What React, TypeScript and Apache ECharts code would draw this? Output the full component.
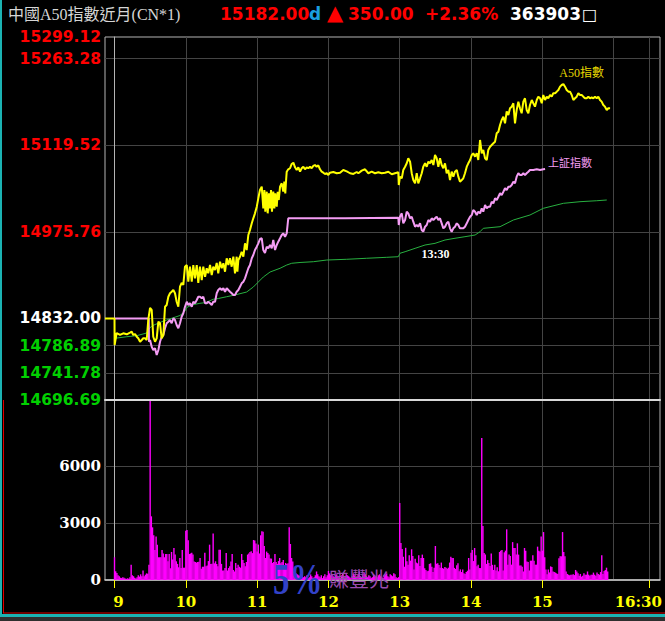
import React, { useEffect, useRef } from 'react';
import * as echarts from 'echarts';

// ---------- header ----------
const TITLE = '中國A50指數近月(CN*1)';
const LAST_PRICE = '15182.00';
const LAST_FLAG = 'd';
const CHANGE = '350.00';
const CHANGE_PCT = '+2.36%';
const TOTAL_VOLUME = '363903';

// ---------- axes ----------
const PREV_CLOSE = 14832.0;
const PRICE_MIN = 14696.69;
const PRICE_MAX = 15299.12;
const PRICE_LABELS = [14696.69, 14741.78, 14786.89, 14832.0, 14975.76, 15119.52, 15263.28, 15299.12];
const PRICE_GRID = [14741.78, 14786.89, 14832.0, 14975.76, 15119.52, 15263.28];
const VOL_MAX = 9500;
const VOL_LABELS = [0, 3000, 6000];
const VOL_GRID = [3000, 6000];
// time in minutes after 09:00
const T_MIN = -8;
const T_MAX = 459;
const HOUR_GRID = [0, 60, 120, 180, 240, 300, 360, 420, 450];
const TIME_LABELS = [0, 60, 120, 180, 240, 300, 360, 450];
const TIME_TEXT = ['9', '10', '11', '12', '13', '14', '15', '16:30'];

// ---------- series: [minute after 09:00, price] ----------
const A50 = [
  [-8,14832],[0,14832],[0.1,14788.0],[1.8,14807.9],[4.6,14804.6],[7.4,14807.4],[10.3,14805.7],[13.0,14808.4],[14.5,14810.0],[15.8,14804.6],[17.3,14806.2],[18.7,14801.7],[20.0,14799.1],[21.5,14793.4],[22.9,14796.3],[24.2,14799.1],[25.7,14799.1],[27.1,14796.3],[28.4,14829.5],[29.9,14849.4],[31.3,14846.1],[32.6,14801.7],[34.1,14793.4],[35.5,14799.1],[36.9,14826.6],[38.3,14824.0],[39.7,14799.1],[41.1,14804.6],[42.5,14851.5],[43.9,14854.4],[45.3,14868.1],[46.7,14873.8],[48.1,14876.4],[49.5,14879.2],[50.9,14873.8],[52.3,14859.8],[53.7,14851.5],[55.1,14884.7],[56.5,14890.9],[57.9,14887.6],[59.3,14917.9],[60.8,14920.7],[62.1,14893.0],[63.5,14917.9],[65.0,14893.0],[66.3,14920.7],[67.7,14898.6],[69.2,14920.7],[70.5,14890.9],[71.9,14917.9],[73.4,14895.8],[74.7,14917.9],[76.2,14901.3],[77.6,14915.3],[78.9,14907.0],[80.4,14920.7],[81.8,14904.1],[83.1,14917.9],[84.6,14912.4],[86.0,14924.1],[87.3,14907.0],[88.8,14926.2],[90.2,14915.3],[91.6,14923.6],[93.0,14909.6],[94.4,14931.9],[95.8,14920.7],[97.2,14931.9],[98.6,14917.9],[100.0,14934.5],[101.4,14907.0],[102.8,14934.5],[103.4,14909.6],[104.2,14929.0],[105.6,14934.5],[107.0,14942.8],[108.4,14934.5],[109.8,14956.7],[111.2,14945.6],[112.6,14970.5],[114.0,14978.8],[115.5,14989.9],[116.8,14998.2],[118.2,15006.5],[119.7,15017.5],[121.0,15031.4],[122.4,15045.2],[123.9,15050.7],
  [125.2,15014.8],[126.1,15045.2],[126.9,15009.2],[128.1,15042.4],[128.9,15006.5],[130.0,15039.7],[130.9,15014.8],[131.7,15045.2],[132.5,15009.2],[133.6,15042.4],[134.5,15014.8],[135.3,15039.7],[136.5,15017.5],[137.3,15042.4],[138.2,15028.6],[139.3,15050.7],[140.7,15056.3],[142.0,15042.4],[142.9,15059.0],[143.7,15039.7],[144.3,15059.0],[144.9,15075.6],[146.2,15079.6],[147.7,15081.3],[149.1,15088.4],[150.5,15090.5],[151.9,15082.9],[153.3,15078.4],[154.7,15082.9],[156.1,15075.6],[157.5,15081.3],[158.9,15083.9],[160.3,15079.6],[161.7,15082.9],[163.1,15081.3],[164.5,15083.9],[165.9,15081.3],[167.3,15085.1],[168.7,15086.7],[170.1,15083.9],[171.5,15086.2],[172.9,15079.6],[174.3,15075.6],[175.7,15073.9],[177.1,15071.8],[178.6,15073.0],[179.9,15070.1],[181.3,15073.9],[184.1,15075.1],[187.0,15073.0],[189.8,15073.9],[192.5,15078.4],[195.4,15076.2],[198.2,15073.0],[201.0,15071.8],[203.8,15075.1],
  [205.2,15073.0],[208.0,15077.3],[210.8,15079.6],[213.6,15073.0],[216.4,15075.6],[219.2,15073.0],[222.0,15074.7],[224.8,15073.0],[227.6,15073.9],[230.4,15075.6],[233.3,15071.3],[236.0,15073.0],[238.8,15074.7],[239.2,15053.5],[240.2,15067.3],[241.7,15064.6],[243.0,15078.4],[244.5,15083.9],[245.9,15089.5],[247.2,15097.8],[248.7,15092.2],[250.1,15073.0],[251.4,15061.8],[252.9,15056.3],[254.3,15073.0],[255.6,15056.3],[257.1,15064.6],[258.5,15073.0],[259.8,15083.9],[261.3,15089.5],[262.7,15083.9],[264.1,15092.2],[265.5,15089.5],[266.9,15095.0],[268.3,15086.7],[269.7,15103.3],[271.1,15097.8],[272.5,15083.9],[273.9,15097.8],[275.3,15086.7],[276.7,15081.3],[278.1,15089.5],[279.5,15073.0],[280.9,15078.4],[282.3,15061.8],[283.7,15075.6],[285.1,15067.3],[286.5,15075.6],[288.0,15078.4],[289.3,15067.3],[290.7,15059.0],[292.2,15061.8],[293.5,15064.6],[294.9,15073.0],[296.4,15083.9],[297.7,15089.5],[299.2,15095.0],[300.6,15103.3],[301.9,15106.1],[303.4,15100.5],[304.8,15106.1],[306.1,15095.0],[307.6,15128.2],
  [309.0,15106.1],[310.3,15111.6],[311.8,15097.8],[313.2,15095.0],[314.5,15111.6],[316.0,15117.1],[317.4,15119.9],[318.8,15122.7],[320.2,15125.4],[321.6,15139.3],[323.0,15142.0],[324.4,15153.1],[325.8,15161.4],[327.2,15166.9],[328.6,15155.9],[330.0,15175.8],[331.4,15169.7],[332.8,15180.8],[334.2,15183.5],[335.6,15189.1],[337.0,15155.9],[338.4,15178.0],[339.8,15191.8],[341.2,15180.8],[342.6,15172.5],[344.0,15191.8],[345.4,15197.4],[346.8,15178.0],[348.2,15172.5],[349.6,15186.3],[351.1,15194.6],[352.4,15189.1],[353.8,15183.5],[355.3,15194.6],[356.6,15200.1],[358.1,15197.4],[359.5,15189.1],[360.8,15202.9],[362.3,15194.6],[363.7,15200.1],[365.0,15197.4],[366.5,15202.9],[367.9,15200.1],[369.2,15205.7],[370.7,15205.7],[372.1,15208.4],[373.5,15211.2],[374.9,15216.7],[376.3,15219.5],[377.7,15221.1],[379.1,15216.7],[380.5,15211.2],[381.9,15208.4],[383.3,15208.4],[384.7,15202.9],[386.1,15194.6],[387.5,15197.4],[388.9,15200.1],[390.3,15205.7],[391.7,15202.9],[393.1,15202.9],[394.5,15200.1],[395.9,15197.4],[397.3,15197.4],[398.7,15200.1],[400.1,15197.4],[401.5,15199.0],[402.9,15197.4],[404.3,15200.1],[405.8,15197.4],[407.1,15200.1],[408.5,15194.6],[409.9,15191.8],[411.3,15186.3],[412.7,15183.5],[414.2,15178.0],[415.5,15180.8],[417.0,15180.8]
];

const SSE = [
  [0,14832],[28.8,14832],[29.0,14793.4],[29.9,14796.3],[31.3,14785.1],[32.6,14779.7],[34.1,14782.5],[35.5,14771.4],[36.9,14779.7],[38.3,14793.4],[39.7,14801.7],[41.1,14804.6],[42.5,14815.7],[43.9,14824.0],[45.3,14826.6],[46.7,14829.5],[48.1,14824.0],[49.5,14832.3],[50.9,14829.5],[52.3,14821.2],[53.7,14815.7],[55.1,14824.0],[56.5,14834.9],[57.9,14840.6],[59.3,14851.5],[60.8,14859.8],[62.1,14854.4],[63.5,14857.2],[65.0,14851.5],[66.3,14859.8],[67.7,14857.2],[69.2,14862.7],[70.5,14868.1],[71.9,14868.1],[73.4,14865.5],[74.7,14868.1],[76.2,14857.2],[77.6,14857.2],[78.9,14859.8],[80.4,14857.2],[81.8,14854.4],[83.1,14859.8],[84.6,14859.8],[86.0,14873.8],[87.3,14879.2],[88.8,14882.1],[90.2,14879.2],[91.6,14882.1],[93.0,14876.4],[94.4,14882.1],[95.8,14879.2],[97.2,14876.4],[98.6,14873.8],[100.0,14871.0],[101.4,14871.0],[102.8,14876.4],[104.2,14879.2],[105.6,14884.7],[107.0,14890.3],[108.4,14893.0],[109.8,14898.6],[111.2,14907.0],[112.6,14915.3],[114.0,14920.7],[115.5,14931.9],[116.8,14937.3],[118.2,14945.6],[119.7,14951.1],[121.0,14956.7],[122.4,14963.9],[123.9,14965.1],[125.2,14945.6],[126.6,14940.6],[128.1,14951.1],[129.4,14948.4],[130.9,14953.9],[132.3,14948.4],[133.6,14962.2],[135.1,14945.6],[136.5,14953.9],[137.8,14959.4],[139.3,14965.1],[140.7,14970.5],[142.0,14973.3],[143.5,14967.7],[144.9,14973.3],[146.2,14998.2],[194.0,14998.2],[194.1,14999.2],[238.8,14999.2],
  [239.2,14987.1],[240.2,15000.9],[241.7,15006.5],[243.0,14989.9],[244.5,14995.4],[245.9,15009.2],[247.2,15006.5],[248.7,14998.2],[250.1,15000.9],[251.4,14992.6],[252.9,14984.3],[254.3,14987.1],[255.6,14984.3],[257.1,14989.9],[258.5,14978.8],[259.8,14976.0],[261.3,14984.3],[262.7,14987.1],[264.1,14995.4],[265.5,14992.6],[266.9,14998.2],[268.3,14995.4],[269.7,14998.2],[271.1,15000.9],[272.5,14995.4],[273.9,14998.2],[275.3,14989.9],[276.7,14981.6],[278.1,14984.3],[279.5,14989.9],[280.9,14992.6],[282.3,14981.6],[283.7,14976.0],[285.1,14981.6],[286.5,14984.3],[288.0,14989.9],[289.3,14987.1],[290.7,14981.6],[292.2,14981.6],[293.5,14981.6],[294.9,14984.3],[296.4,14989.9],[297.7,14995.4],[299.2,15000.9],[300.6,15003.7],[301.9,15012.0],[303.4,15009.2],[304.8,15003.7],[306.1,15009.2],[307.6,15006.5],[309.0,15014.8],[310.3,15009.2],[311.8,15020.3],[313.2,15014.8],[314.5,15017.5],[316.0,15017.5],[317.4,15025.8],[318.8,15023.1],[320.2,15031.4],[321.6,15028.6],[323.0,15034.1],[324.4,15039.7],[325.8,15036.9],[327.2,15042.4],[328.6,15048.0],[330.0,15045.2],[331.4,15050.7],[332.8,15050.7],[334.2,15053.5],[335.6,15059.0],[337.0,15056.3],[338.4,15067.3],[339.8,15073.0],[341.2,15070.1],[342.6,15070.1],[344.0,15073.0],[345.4,15070.1],[346.8,15073.0],[348.2,15075.6],[349.6,15078.4],[352.4,15078.4],[355.3,15079.6],[358.1,15078.4],[360.8,15079.6],[362.3,15080.1]
];

const AVG = [
  [0.4,14799.1],[10.3,14801.7],[18.7,14803.4],[27.1,14807.9],[28.4,14812.9],[31.3,14819.5],[39.7,14826.6],[43.9,14829.5],[48.1,14832.3],[55.1,14836.9],[59.3,14844.4],[60.8,14850.2],[65.0,14854.4],[71.9,14857.2],[76.2,14858.2],[83.1,14863.8],[87.3,14865.1],[94.4,14868.1],[101.4,14871.0],[111.2,14875.9],[116.8,14884.2],[121.0,14892.5],[125.2,14900.8],[130.9,14909.1],[139.3,14915.3],[144.9,14920.7],[149.1,14923.6],[156.1,14924.9],[167.3,14926.2],[178.6,14929.0],[195.4,14930.2],[212.2,14931.9],[229.1,14933.5],[238.8,14934.5],[240.2,14940.2],[244.5,14942.8],[252.9,14948.4],[261.3,14953.9],[269.7,14956.7],[278.1,14962.2],[286.5,14965.1],[294.9,14967.7],[303.4,14970.5],[307.6,14976.0],[310.3,14981.6],[324.4,14984.3],[335.6,14995.4],[349.6,15003.7],[360.8,15014.8],[377.7,15023.1],[391.7,15025.8],[405.8,15027.4],[414.2,15028.6]
];

// volume per minute, index 0 = 09:00
const VOLUME = [
  1200,460,370,250,200,120,100,150,120,80,60,90,60,150,800,250,200,120,80,150,250,180,300,200,500,200,280,350,330,800,
  9450,3360,2780,2360,1580,2300,1865,1200,1200,1200,1580,1400,1200,1370,1370,985,1370,620,1480,1080,1690,1340,986,850,670,1160,630,1580,650,650,
  2600,2640,2100,1370,1400,1440,1340,980,950,920,950,960,1160,600,700,700,1440,720,760,1000,1865,850,860,2460,880,986,850,720,1600,1600,
  850,500,500,630,1430,500,630,720,980,1370,530,450,900,630,800,700,650,1370,1050,900,720,950,1340,1400,1480,1520,1420,2110,2080,1930,
  1500,1870,1400,2360,2570,2540,1800,1160,1500,1430,1340,1130,1130,900,950,1370,950,850,1000,1160,880,950,1060,630,900,850,880,2780,1900,1160,980,460,
  400,350,300,250,200,300,250,150,
  200,150,250,100,150,300,200,100,150,250,450,300,200,150,250,100,200,300,150,250,
  480,350,250,300,200,150,250,300,200,150,100,250,350,200,150,300,250,200,150,100,
  200,350,250,150,200,300,450,200,150,250,400,300,200,150,250,200,100,150,300,250,
  200,150,250,300,200,150,100,250,300,350,200,150,300,250,200,350,300,150,100,150,
  4066,1950,1640,1230,700,1700,985,810,1300,1020,1620,1270,550,1126,920,880,1300,740,1160,1340,1160,620,530,460,490,850,880,700,420,640,
  1795,860,880,790,640,920,630,600,680,640,600,650,920,1230,1160,1160,640,580,780,880,460,560,420,560,350,320,420,490,1160,560,
  1440,1580,1000,1690,1300,720,810,630,630,7500,2850,1425,1340,850,1050,900,740,1400,800,530,810,500,670,460,1480,1550,1580,500,1460,1550,
  2675,810,1340,1270,810,2000,1690,1690,1340,1935,1340,770,770,700,450,1690,1550,980,950,500,1020,1020,1300,1020,810,810,1760,1550,1500,2290,
  1550,2530,1200,560,300,560,400,720,680,450,420,390,350,320,1150,1250,1250,2530,1480,1250,450,320,280,250,280,280,300,260,530,450,
  350,220,320,180,220,350,280,280,450,280,220,280,280,390,280,230,390,320,280,420,1300,320,480,530,650,450
];

// annotation anchors [minute, price]
const A50_NAME_AT = [393, 15239.4];
const SSE_NAME_AT = [383.3, 15091.7];
const MARK_1330_AT = [270, 14939];

const SANS = '"DejaVu Sans", Verdana, sans-serif';
const SERIF = '"DejaVu Serif", serif';
const GRID_COLOR = '#444444';
const BORDER_COLOR = '#b4b4b4';

function buildOption(): any {
  const timeAxisBase = { type: 'value', min: T_MIN, max: T_MAX };
  const headerFont = `bold 17px ${SANS}`;
  const txt = (x: number, y: number, text: string, fill: string, font: string, extra: any = {}, el: any = {}) => ({
    type: 'text', x, y, z: 100, silent: true, ...el,
    style: { text, fill, font, textVerticalAlign: 'middle', verticalAlign: 'middle', ...extra },
  });
  const rect = (x: number, y: number, w: number, h: number, fill: string) => ({
    type: 'rect', z: 100, silent: true, shape: { x, y, width: w, height: h }, style: { fill },
  });
  return {
    animation: false,
    backgroundColor: '#000000',
    grid: [
      { left: 105, right: 5, top: 37, height: 363, show: true, borderColor: BORDER_COLOR, borderWidth: 1, backgroundColor: 'transparent', outerBoundsMode: 'none', containLabel: false },
      { left: 105, right: 5, top: 400, height: 180, show: true, borderColor: BORDER_COLOR, borderWidth: 1, backgroundColor: 'transparent', outerBoundsMode: 'none', containLabel: false },
    ],
    xAxis: [
      {
        ...timeAxisBase, gridIndex: 0, position: 'bottom',
        axisLine: { show: true, onZero: false, lineStyle: { color: '#d8d8d8', width: 2 } },
        axisTick: { show: false, customValues: HOUR_GRID },
        axisLabel: { show: false, customValues: HOUR_GRID },
        splitLine: { show: true, lineStyle: { color: GRID_COLOR, width: 1 } },
      },
      {
        ...timeAxisBase, gridIndex: 1, position: 'bottom',
        axisLine: { show: true, onZero: false, lineStyle: { color: '#c8c8c8', width: 1.5 } },
        axisTick: { show: true, length: 8, customValues: TIME_LABELS, lineStyle: { color: '#ffff00', width: 1 } },
        axisLabel: {
          show: true, customValues: TIME_LABELS, margin: 14,
          color: '#ffff00', fontFamily: SERIF, fontWeight: 'bold', fontSize: 15,
          formatter: (v: number) => {
            const i = TIME_LABELS.indexOf(Math.round(v));
            const t = i >= 0 ? TIME_TEXT[i] : '';
            if (i === 0) return `{first|${t}}`;
            if (i === TIME_LABELS.length - 1) return `{last|${t}}`;
            return t;
          },
          rich: {
            first: { color: '#ffff00', fontFamily: SERIF, fontWeight: 'bold', fontSize: 15, padding: [0, 0, 0, 8] },
            last: { color: '#ffff00', fontFamily: SERIF, fontWeight: 'bold', fontSize: 15, padding: [0, 22, 0, 0] },
          },
        },
        splitLine: { show: false },
      },
      {
        ...timeAxisBase, gridIndex: 1, position: 'top',
        axisLine: { show: false },
        axisTick: { show: false, customValues: HOUR_GRID },
        axisLabel: { show: false, customValues: HOUR_GRID },
        splitLine: { show: true, lineStyle: { color: GRID_COLOR, width: 1 } },
      },
    ],
    yAxis: [
      {
        type: 'value', gridIndex: 0, min: PRICE_MIN, max: PRICE_MAX,
        axisLine: { show: true, lineStyle: { color: BORDER_COLOR } },
        axisTick: { show: false, customValues: PRICE_GRID },
        axisLabel: {
          show: true, customValues: PRICE_LABELS, margin: 4,
          fontFamily: SANS, fontWeight: 'bold', fontSize: 15.5,
          formatter: (v: number) => Number(v).toFixed(2),
          color: (v: any) => {
            const n = parseFloat(v);
            if (Math.abs(n - PREV_CLOSE) < 0.005) return '#ffffff';
            return n > PREV_CLOSE ? '#ff0000' : '#00d000';
          },
        },
        splitLine: { show: true, lineStyle: { color: GRID_COLOR, width: 1 } },
      },
      {
        type: 'value', gridIndex: 1, min: 0, max: VOL_MAX,
        axisLine: { show: true, lineStyle: { color: BORDER_COLOR } },
        axisTick: { show: false, customValues: VOL_GRID },
        axisLabel: {
          show: true, customValues: VOL_LABELS, margin: 4, color: '#ffffff',
          fontFamily: SERIF, fontWeight: 'bold', fontSize: 15,
          formatter: (v: number) => String(Math.round(v)),
        },
        splitLine: { show: true, lineStyle: { color: GRID_COLOR, width: 1 } },
      },
    ],
    series: [
      {
        name: '均價', type: 'line', xAxisIndex: 0, yAxisIndex: 0, data: AVG, symbol: 'none', silent: true, z: 3,
        lineStyle: { color: '#28b040', width: 1 },
        markPoint: {
          symbol: 'circle', symbolSize: 0, silent: true, itemStyle: { color: 'transparent' },
          label: { show: true, position: 'inside', formatter: '13:30', color: '#ffffff', fontFamily: '"Liberation Serif", serif', fontWeight: 'bold', fontSize: 12 },
          data: [{ coord: MARK_1330_AT }],
        },
      },
      {
        name: '上証指數', type: 'line', xAxisIndex: 0, yAxisIndex: 0, data: SSE, symbol: 'none', silent: true, z: 4,
        lineStyle: { color: '#f49cf4', width: 2 },
        markPoint: {
          symbol: 'circle', symbolSize: 0, silent: true, itemStyle: { color: 'transparent' },
          label: { show: true, position: 'inside', formatter: '上証指數', color: '#f49cf4', fontFamily: '"Noto Sans CJK TC", sans-serif', fontSize: 11 },
          data: [{ coord: SSE_NAME_AT }],
        },
      },
      {
        name: 'A50指數', type: 'line', xAxisIndex: 0, yAxisIndex: 0, data: A50, symbol: 'none', silent: true, z: 5,
        lineStyle: { color: '#ffff00', width: 2 },
        markPoint: {
          symbol: 'circle', symbolSize: 0, silent: true, itemStyle: { color: 'transparent' },
          label: { show: true, position: 'inside', formatter: 'A50指數', color: '#e8d800', fontFamily: '"Liberation Serif", "Noto Sans CJK TC", serif', fontSize: 12 },
          data: [{ coord: A50_NAME_AT }],
        },
      },
      {
        name: '成交量', type: 'bar', xAxisIndex: 1, yAxisIndex: 1, silent: true,
        data: VOLUME.map((v, i) => [i, v]), barWidth: 1.4, itemStyle: { color: '#ff00ff' },
      },
    ],
    graphic: {
      elements: [
        // frame
        rect(0, 0, 2, 617, '#1bb3b3'),
        rect(3, 400, 1, 213, '#e00000'),
        rect(3, 612.5, 662, 1, '#e00000'),
        rect(0, 614, 665, 3, '#1bb3b3'),
        rect(0, 617, 665, 4, '#2e2e2e'),
        // header
        txt(8, 14, TITLE, '#d6d6d6', `16px "Liberation Serif", "Noto Sans CJK TC", serif`),
        txt(220, 14, LAST_PRICE, '#ff0000', headerFont),
        txt(309, 14, LAST_FLAG, '#1a9fe0', headerFont),
        txt(327, 13, '▲', '#ff0000', `bold 21px ${SANS}`),
        txt(348, 14, CHANGE, '#ff0000', headerFont),
        txt(425, 14, CHANGE_PCT, '#ff0000', headerFont),
        txt(510, 14, TOTAL_VOLUME, '#ffffff', headerFont),
        txt(582, 14, '□', '#ffffff', `16px ${SANS}`),
        // watermark
        txt(273, 579, '5%', '#3242c8', 'bold 44px "Liberation Serif", serif', {}, { scaleX: 0.75 }),
        txt(329, 578, '賺豐兆', '#9a4aae', '20px "Noto Sans CJK TC", sans-serif'),
      ],
    },
  };
}

export default function App() {
  const ref = useRef<HTMLDivElement>(null);
  useEffect(() => {
    if (!ref.current) return;
    const chart = echarts.init(ref.current, null, { renderer: 'svg' });
    chart.setOption(buildOption());
    return () => chart.dispose();
  }, []);
  return (
    <div
      ref={ref}
      style={{ position: 'fixed', left: 0, top: 0, width: 665, height: 621, background: '#000' }}
    />
  );
}
